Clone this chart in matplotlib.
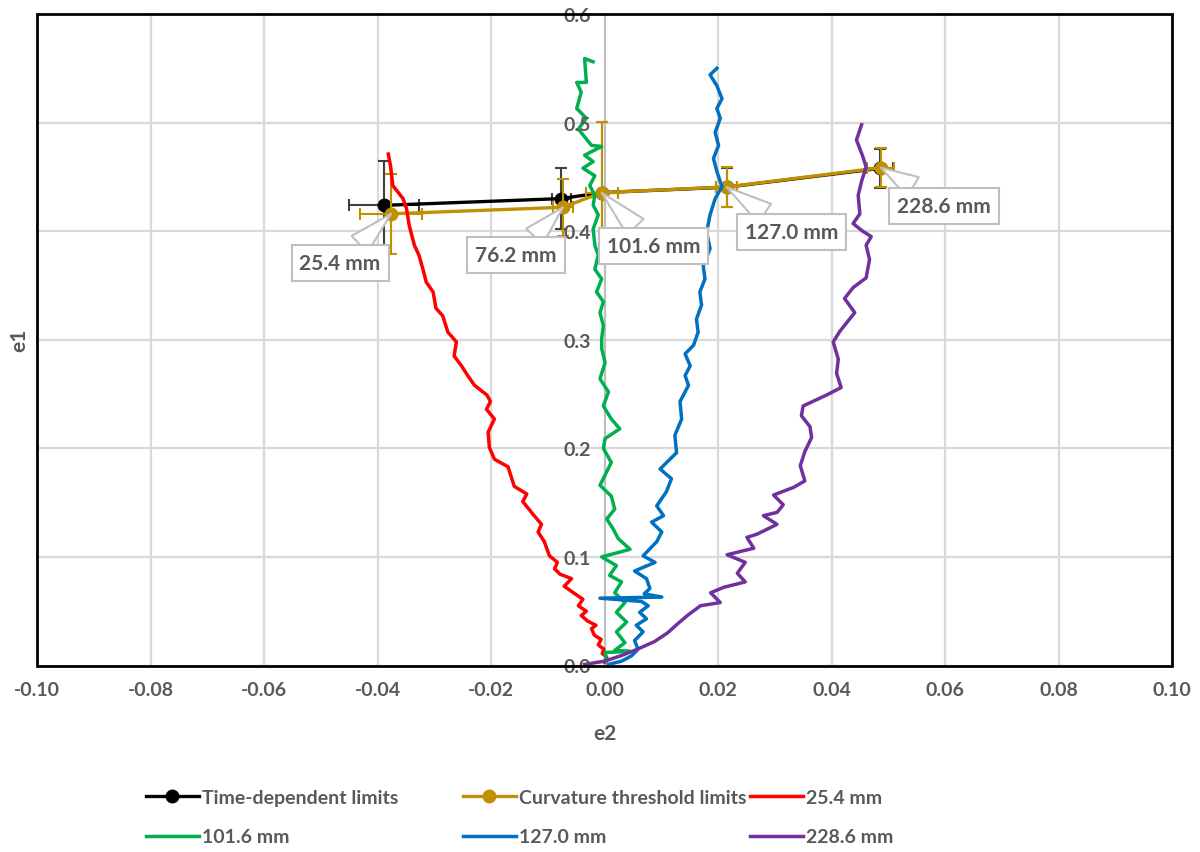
import matplotlib
matplotlib.use("Agg")
import matplotlib.pyplot as plt
from matplotlib.lines import Line2D
from matplotlib.patches import Rectangle

plt.rcParams['font.family'] = ['Lato', 'DejaVu Sans']
plt.rcParams['font.weight'] = 'bold'

TEXT = '#595959'
GRID = '#D9D9D9'
GOLD = '#BF9000'

# Forming-limit points (e2, e1) with error bars, per punch size
sizes = ['25.4 mm', '76.2 mm', '101.6 mm', '127.0 mm', '228.6 mm']

td_e2 = [-0.0388, -0.0076, -0.0005, 0.0215, 0.0485]
td_e1 = [0.4238, 0.4300, 0.4355, 0.4405, 0.4578]
td_xerr = [0.0062, 0.0017, 0.0028, 0.0018, 0.0024]
td_yerr = [0.041, 0.028, 0.065, 0.018, 0.018]

ct_e2 = [-0.0376, -0.0073, -0.0005, 0.0215, 0.0487]
ct_e1 = [0.4160, 0.4220, 0.4355, 0.4407, 0.4585]
ct_xerr = [0.0055, 0.0018, 0.0028, 0.0018, 0.0024]
ct_yerr = [0.037, 0.026, 0.065, 0.018, 0.018]

# Strain paths (e2, e1) for each specimen width
red_e2 = [0.0000, 0.0004, -0.0004, -0.0001, -0.0011, -0.0006, -0.0018, -0.0023,
          -0.0015, -0.0030, -0.0041, -0.0032, -0.0046, -0.0038, -0.0052, -0.0071,
          -0.0058, -0.0078, -0.0088, -0.0083, -0.0097, -0.0106, -0.0117, -0.0111,
          -0.0124, -0.0144, -0.0137, -0.0159, -0.0170, -0.0194, -0.0203, -0.0205,
          -0.0194, -0.0208, -0.0201, -0.0207, -0.0229, -0.0241, -0.0252, -0.0265,
          -0.0261, -0.0276, -0.0285, -0.0297, -0.0302, -0.0314, -0.0320, -0.0327,
          -0.0335, -0.0344, -0.0349, -0.0355, -0.0373, -0.0377, -0.0381]
red_e1 = [0.003, 0.008, 0.011, 0.015, 0.019, 0.024, 0.028, 0.034,
          0.037, 0.041, 0.046, 0.050, 0.055, 0.061, 0.066, 0.073,
          0.080, 0.084, 0.089, 0.095, 0.101, 0.114, 0.123, 0.130,
          0.138, 0.151, 0.158, 0.165, 0.183, 0.190, 0.201, 0.215,
          0.227, 0.236, 0.243, 0.249, 0.258, 0.267, 0.276, 0.285,
          0.298, 0.307, 0.322, 0.329, 0.344, 0.353, 0.365, 0.378,
          0.387, 0.405, 0.421, 0.430, 0.442, 0.460, 0.471]

green_e2 = [0.0003, 0.0001, 0.0045, 0.0018, 0.0036, 0.0021, 0.0039, 0.0021,
            0.0036, 0.0018, 0.0030, 0.0009, 0.0021, -0.0005, 0.0045, 0.0024,
            0.0015, 0.0004, 0.0018, 0.0012, -0.0008, 0.0012, -0.0002, 0.0001,
            0.0027, 0.0012, -0.0002, 0.0007, -0.0008, 0.0001, -0.0005, -0.0005,
            -0.0002, -0.0008, -0.0002, -0.0014, -0.0005, -0.0017, -0.0011, -0.0017,
            -0.0020, -0.0011, -0.0020, -0.0017, -0.0026, -0.0017, -0.0038, -0.0020,
            -0.0035, -0.0005, -0.0023, -0.0046, -0.0032, -0.0049, -0.0041, -0.0049,
            -0.0032, -0.0035, -0.0020]
green_e1 = [0.004, 0.012, 0.013, 0.014, 0.021, 0.031, 0.040, 0.049,
            0.058, 0.067, 0.077, 0.083, 0.092, 0.100, 0.107, 0.117,
            0.126, 0.135, 0.144, 0.156, 0.166, 0.187, 0.200, 0.209,
            0.218, 0.227, 0.239, 0.252, 0.264, 0.279, 0.292, 0.301,
            0.313, 0.325, 0.335, 0.344, 0.356, 0.365, 0.378, 0.387,
            0.402, 0.415, 0.424, 0.433, 0.442, 0.451, 0.458, 0.464,
            0.470, 0.478, 0.479, 0.494, 0.504, 0.513, 0.528, 0.537,
            0.537, 0.559, 0.556]

blue_e2 = [0.0007, 0.0030, 0.0048, 0.0059, 0.0053, 0.0068, 0.0056, 0.0074,
           0.0062, 0.0077, 0.0065, -0.0008, 0.0101, 0.0070, 0.0080, 0.0074,
           0.0053, 0.0089, 0.0068, 0.0092, 0.0101, 0.0083, 0.0104, 0.0092,
           0.0109, 0.0118, 0.0098, 0.0127, 0.0124, 0.0136, 0.0133, 0.0148,
           0.0142, 0.0151, 0.0142, 0.0157, 0.0165, 0.0162, 0.0171, 0.0168,
           0.0177, 0.0174, 0.0186, 0.0180, 0.0186, 0.0195, 0.0207, 0.0198,
           0.0192, 0.0201, 0.0195, 0.0204, 0.0198, 0.0207, 0.0198, 0.0186,
           0.0198]
blue_e1 = [0.001, 0.004, 0.009, 0.015, 0.023, 0.031, 0.037, 0.043,
           0.049, 0.055, 0.059, 0.062, 0.063, 0.066, 0.071, 0.080,
           0.087, 0.095, 0.101, 0.114, 0.123, 0.132, 0.138, 0.147,
           0.160, 0.172, 0.181, 0.196, 0.212, 0.227, 0.243, 0.258,
           0.267, 0.276, 0.287, 0.295, 0.307, 0.319, 0.332, 0.344,
           0.356, 0.368, 0.384, 0.399, 0.415, 0.430, 0.441, 0.455,
           0.467, 0.479, 0.491, 0.504, 0.513, 0.522, 0.534, 0.544,
           0.550]

purple_e2 = [-0.0035, 0.0000, 0.0029, 0.0058, 0.0088, 0.0111, 0.0128, 0.0146,
             0.0169, 0.0204, 0.0187, 0.0210, 0.0248, 0.0234, 0.0248, 0.0216,
             0.0263, 0.0251, 0.0269, 0.0304, 0.0280, 0.0304, 0.0315, 0.0298,
             0.0333, 0.0353, 0.0345, 0.0353, 0.0365, 0.0362, 0.0347, 0.0350,
             0.0391, 0.0417, 0.0409, 0.0412, 0.0403, 0.0415, 0.0441, 0.0423,
             0.0438, 0.0461, 0.0467, 0.0461, 0.0470, 0.0455, 0.0438, 0.0450,
             0.0447, 0.0453, 0.0461, 0.0455, 0.0444, 0.0453]
purple_e1 = [0.001, 0.004, 0.009, 0.015, 0.022, 0.030, 0.038, 0.046,
             0.055, 0.058, 0.067, 0.072, 0.077, 0.085, 0.095, 0.102,
             0.108, 0.118, 0.121, 0.130, 0.138, 0.141, 0.148, 0.157,
             0.164, 0.170, 0.184, 0.197, 0.210, 0.220, 0.230, 0.239,
             0.249, 0.256, 0.269, 0.282, 0.298, 0.308, 0.325, 0.338,
             0.348, 0.357, 0.374, 0.387, 0.395, 0.400, 0.407, 0.416,
             0.433, 0.446, 0.459, 0.469, 0.484, 0.498]

paths = [
    ('25.4 mm', red_e2, red_e1, '#FF0000'),
    ('101.6 mm', green_e2, green_e1, '#00B050'),
    ('127.0 mm', blue_e2, blue_e1, '#0070C0'),
    ('228.6 mm', purple_e2, purple_e1, '#7030A0'),
]

# callout offsets (pixels) from each curvature-threshold point
label_offsets = [(-51, -49), (-47, -48), (52, -53), (65, -45), (63, -38)]

fig = plt.figure(figsize=(12, 8.53), dpi=100)
ax = fig.add_axes([37 / 1200, 186.5 / 853, 1135 / 1200, 651.5 / 853])

ax.set_xlim(-0.10, 0.10)
ax.set_ylim(0.0, 0.6)
xt = [round(-0.10 + 0.02 * i, 2) for i in range(11)]
yt = [round(0.1 * i, 1) for i in range(7)]
ax.set_xticks(xt)
ax.set_yticks(yt)
ax.set_xticklabels([f'{v:.2f}' for v in xt])
ax.set_yticklabels([f'{v:.1f}' for v in yt])

for v in xt:
    if abs(v) > 1e-9:
        ax.axvline(v, color=GRID, lw=1.6, zorder=0)
for v in yt:
    ax.axhline(v, color=GRID, lw=1.6, zorder=0)

for s in ['top', 'right', 'bottom']:
    ax.spines[s].set_visible(False)
ax.spines['left'].set_position(('data', 0))
ax.spines['left'].set_color('#BFBFBF')
ax.spines['left'].set_linewidth(1.6)
ax.spines['left'].set_zorder(1)

ax.tick_params(axis='both', length=0, labelsize=14, labelcolor=TEXT)
ax.tick_params(axis='y', pad=10)
ax.tick_params(axis='x', pad=11)
ax.xaxis.set_zorder(5.5)
ax.yaxis.set_zorder(5.5)

ax.set_xlabel('e2', fontsize=15, color=TEXT, fontweight='bold')
ax.set_ylabel('e1', fontsize=15, color=TEXT, fontweight='bold')
ax.xaxis.set_label_coords(0.5, -0.088)
ax.yaxis.set_label_coords(-0.007, 0.5)

ax.errorbar(td_e2, td_e1, xerr=td_xerr, yerr=td_yerr, color='black',
            ecolor='#404040', marker='o', ms=9, lw=2.4, elinewidth=1.5,
            capsize=4, capthick=1.5, zorder=3)
ax.errorbar(ct_e2, ct_e1, xerr=ct_xerr, yerr=ct_yerr, color=GOLD,
            ecolor=GOLD, marker='o', ms=9, lw=2.4, elinewidth=1.5,
            capsize=4, capthick=1.5, zorder=3.5)

for i, (name, xs, ys, c) in enumerate(paths):
    ax.plot(xs, ys, color=c, lw=2.5, zorder=4 + 0.1 * i, solid_joinstyle='round')

for name, x, y, off in zip(sizes, ct_e2, ct_e1, label_offsets):
    ax.annotate(name, xy=(x, y), xytext=off, textcoords='offset pixels',
                ha='center', va='center', fontsize=15, color=TEXT,
                fontweight='bold', zorder=6,
                bbox=dict(boxstyle='square,pad=0.38', fc='white', ec='#BFBFBF', lw=1.5),
                arrowprops=dict(arrowstyle='wedge,tail_width=1.1', fc='white',
                                ec='#BFBFBF', lw=1.5, shrinkA=0, shrinkB=0))

ax.add_patch(Rectangle((0, 0), 1, 1, transform=ax.transAxes, fill=False,
                       ec='black', lw=2, clip_on=False, zorder=8))

# legend laid out as a 3 x 2 grid below the plot
h_td = Line2D([], [], color='black', marker='o', ms=9, lw=2.4)
h_ct = Line2D([], [], color=GOLD, marker='o', ms=9, lw=2.4)
h_p = [Line2D([], [], color=c, lw=2.5) for _, _, _, c in paths]
groups = [
    ([h_td, h_p[1]], ['Time-dependent limits', '101.6 mm'], 146),
    ([h_ct, h_p[2]], ['Curvature threshold limits', '127.0 mm'], 463),
    ([h_p[0], h_p[3]], ['25.4 mm', '228.6 mm'], 750),
]
for hs, ls, xpx in groups:
    fig.legend(hs, ls, loc='upper left', bbox_to_anchor=(xpx / 1200, 1 - 790 / 853),
               frameon=False, handlelength=2.7, handletextpad=0.2,
               borderpad=0, borderaxespad=0, labelspacing=1.15,
               labelcolor=TEXT, prop={'weight': 'bold', 'size': 14})

fig.savefig('out.png', dpi=100)
